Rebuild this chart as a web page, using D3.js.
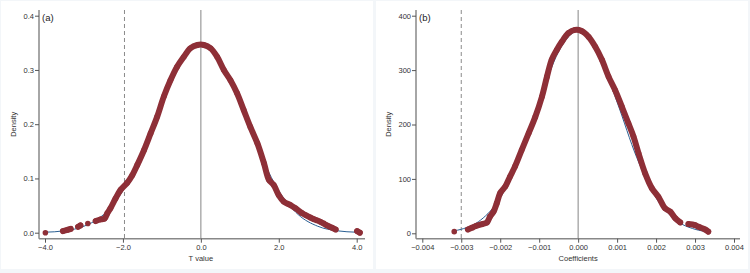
<!DOCTYPE html>
<html><head><meta charset="utf-8">
<script src="https://cdn.jsdelivr.net/npm/d3@7"></script>
<style>
html,body{margin:0;padding:0;background:#f3f6f9;}
svg{display:block;font-family:"Liberation Sans",Arial,sans-serif;}
</style></head>
<body><svg id="c" width="750" height="273"></svg>
<script>
// ---- Panel (a): T values ----
const aKdeX = [-3.99,-3.54,-3.43,-3.34,-3.15,-3.09,-2.90,-2.70,-2.57,-2.47,-2.40,-2.32,-2.19,-2.06,-1.89,-1.76,-1.63,-1.46,-1.29,-1.12,-0.95,-0.78,-0.61,-0.44,-0.27,-0.09,0.08,0.25,0.42,0.59,0.76,0.93,1.10,1.27,1.45,1.62,1.75,1.87,2.00,2.13,2.30,2.43,2.60,2.70,2.81,2.90,2.97,3.07,3.15,3.22,3.28,3.37,3.46,4.01,4.08];
const aKdeY = [0.000,0.003,0.005,0.007,0.011,0.0135,0.017,0.0215,0.0246,0.026,0.036,0.045,0.063,0.079,0.092,0.106,0.125,0.152,0.183,0.214,0.251,0.281,0.306,0.324,0.340,0.346,0.346,0.340,0.324,0.300,0.281,0.257,0.226,0.195,0.165,0.128,0.097,0.088,0.069,0.057,0.051,0.045,0.036,0.032,0.028,0.025,0.023,0.020,0.017,0.014,0.012,0.009,0.006,0.003,0.000];
const aNormX = [-4.0,-3.5,-3.0,-2.5,-2.0,-1.5,-1.0,-0.5,0,0.5,1.0,1.5,2.0,2.5,3.0,3.5,4.0,4.08];
const aNormY = [0.0009,0.0035,0.0119,0.0333,0.0773,0.149,0.237,0.314,0.345,0.314,0.237,0.149,0.0773,0.0333,0.0119,0.0035,0.0009,0.0007];
const aXTicks = [-4,-2,0,2,4];
const aYTicks = [0,0.1,0.2,0.3,0.4];
const aCrit = -1.96;

// ---- Panel (b): coefficients ----
const bKdeX = [-0.00318,-0.00283,-0.00273,-0.00264,-0.00246,-0.00234,-0.00226,-0.00217,-0.00209,-0.00200,-0.00187,-0.00175,-0.00162,-0.00145,-0.00127,-0.00110,-0.00093,-0.00080,-0.00068,-0.00055,-0.00042,-0.00025,-0.00008,0.00009,0.00027,0.00044,0.00061,0.00078,0.00095,0.00112,0.00129,0.00142,0.00155,0.00172,0.00189,0.00206,0.00223,0.00236,0.00249,0.00262,0.00283,0.00300,0.00309,0.00326,0.00334];
const bKdeY = [3,7,10,13,17,20,31,40,55,74,86,104,123,153,184,214,251,288,319,337,352,368,374,372,361,343,319,288,263,233,202,178,147,110,83,67,46,40,28,20,17,15,12,7,3];
const bNormX = [-0.00318,-0.0030,-0.0025,-0.0020,-0.0015,-0.0010,-0.0005,0,0.0005,0.0010,0.0015,0.0020,0.0025,0.0030,0.00334];
const bNormY = [4.6,7.4,24.5,65,140,241,334,372,334,241,140,65,24.5,7.4,2.8];
const bXTicks = [-0.004,-0.003,-0.002,-0.001,0,0.001,0.002,0.003,0.004];
const bYTicks = [0,100,200,300,400];
const bCrit = -0.003;

const RED = "#8e2f37", BLUE = "#2a5f93", GRAY = "#8a8a8a", TXT = "#333";
const svg = d3.select("#c");

svg.append("rect").attr("x",1).attr("y",1).attr("width",372).attr("height",268).attr("fill","#fff");
svg.append("rect").attr("x",376).attr("y",1).attr("width",372).attr("height",268).attr("fill","#fff");

function panel(o){
  const g = svg.append("g");
  const x = d3.scaleLinear().domain(o.xDom).range(o.xRange);
  const y = d3.scaleLinear().domain(o.yDom).range(o.yRange);
  const axisY = o.axisY, top = 10;
  g.append("line").attr("x1",x(0)).attr("x2",x(0)).attr("y1",top).attr("y2",axisY)
    .attr("stroke","#9a9a9a").attr("stroke-width",1.2);
  g.append("line").attr("x1",x(o.crit)).attr("x2",x(o.crit)).attr("y1",top).attr("y2",axisY)
    .attr("stroke",GRAY).attr("stroke-width",1).attr("stroke-dasharray","4,3");
  const xa = g.append("g").attr("transform",`translate(0,${axisY})`)
    .call(d3.axisBottom(x).tickValues(o.xTicks).tickFormat(o.xFmt).tickSize(4).tickSizeOuter(0));
  xa.select(".domain").attr("stroke","#888").attr("stroke-width",1.5)
    .attr("d",`M${o.yAxisX},0H${o.xEnd}`);
  const ya = g.append("g").attr("transform",`translate(${o.yAxisX},0)`)
    .call(d3.axisLeft(y).tickValues(o.yTicks).tickFormat(o.yFmt).tickSize(4).tickSizeOuter(0));
  ya.select(".domain").attr("stroke","#888").attr("stroke-width",1.5)
    .attr("d",`M0,${top}V${axisY}`);
  g.selectAll(".tick line").attr("stroke","#555");
  g.selectAll(".tick text").attr("fill",TXT).attr("font-size",7.5).attr("font-family","Liberation Sans, Arial, sans-serif");
  ya.selectAll(".tick text").attr("x",-5);
  xa.selectAll(".tick text").attr("y",6);
  g.append("text").attr("x",x(0)).attr("y",261).attr("text-anchor","middle")
    .attr("font-size",7.5).attr("fill",TXT).text(o.xTitle);
  g.append("text").attr("transform",`translate(${o.yTitleX},${(top+axisY)/2}) rotate(-90)`)
    .attr("text-anchor","middle").attr("font-size",7.5).attr("fill",TXT).text("Density");
  g.append("text").attr("x",o.yAxisX+3).attr("y",21).attr("font-size",9.5).attr("fill","#222").text(o.label);
  const nd = o.nX.map((v,i)=>[v,o.nY[i]]);
  g.append("path").datum(nd).attr("fill","none").attr("stroke",BLUE).attr("stroke-width",1)
    .attr("d",d3.line().x(d=>x(d[0])).y(d=>y(d[1])).curve(d3.curveMonotoneX));
  const kd = o.kX.map((v,i)=>[v,o.kY[i]]);
  const segs=[]; let cur=[kd[0]];
  for(let i=1;i<kd.length;i++){
    const dx=x(kd[i][0])-x(kd[i-1][0]);
    if(dx<7.2) cur.push(kd[i]); else {segs.push(cur); cur=[kd[i]];}
  }
  segs.push(cur);
  segs.filter(s=>s.length>1).forEach(s=>{
    g.append("path").datum(s).attr("fill","none").attr("stroke",RED).attr("stroke-width",6)
      .attr("stroke-linecap","round").attr("stroke-linejoin","round")
      .attr("d",d3.line().x(d=>x(d[0])).y(d=>y(d[1])).curve(d3.curveCatmullRom));
  });
  g.selectAll("circle.k").data(kd).enter().append("circle").attr("class","k")
    .attr("cx",d=>x(d[0])).attr("cy",d=>y(d[1])).attr("r",2.8).attr("fill",RED);
}

panel({xDom:[-4,4],xRange:[45,356.7],yDom:[0,0.4],yRange:[232.7,15.7],axisY:238.7,yAxisX:39,xEnd:365,
  xTicks:aXTicks,yTicks:aYTicks,xFmt:d3.format(".1f"),yFmt:d3.format(".1f"),crit:aCrit,
  xTitle:"T value",yTitleX:16,label:"(a)",nX:aNormX,nY:aNormY,kX:aKdeX,kY:aKdeY});
panel({xDom:[-0.004,0.004],xRange:[422.3,734],yDom:[0,400],yRange:[233.3,15.7],axisY:238.7,yAxisX:416,xEnd:740,
  xTicks:bXTicks,yTicks:bYTicks,xFmt:d3.format(".3f"),yFmt:d3.format("d"),crit:bCrit,
  xTitle:"Coefficients",yTitleX:391,label:"(b)",nX:bNormX,nY:bNormY,kX:bKdeX,kY:bKdeY});
</script></body></html>
